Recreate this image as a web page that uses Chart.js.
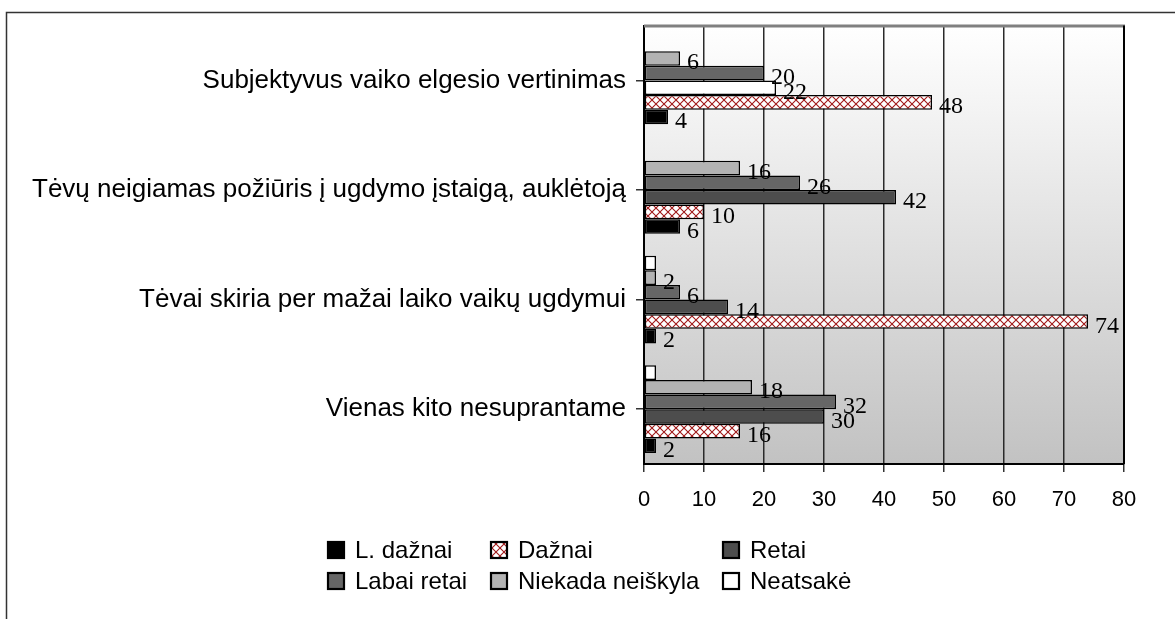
<!DOCTYPE html>
<html><head><meta charset="utf-8">
<script src="https://cdn.jsdelivr.net/npm/chart.js@4/dist/chart.umd.min.js"></script>
<style>html,body{margin:0;padding:0;background:#fff;}canvas{display:block;}</style>
</head><body>
<canvas id="c" width="1175" height="619"></canvas>
<script>
// ---- data (categories listed top to bottom) ----
const categories = [
  "Subjektyvus vaiko elgesio vertinimas",
  "Tėvų neigiamas požiūris į ugdymo įstaigą, auklėtoją",
  "Tėvai skiria per mažai laiko vaikų ugdymui",
  "Vienas kito nesuprantame"
];
const seriesNames = ["L. dažnai", "Dažnai", "Retai", "Labai retai", "Niekada neiškyla", "Neatsakė"];
const lDaznai    = [4, 6, 2, 2];
const daznai     = [48, 10, 74, 16];
const retai      = [22, 42, 14, 30];
const labaiRetai = [20, 26, 6, 32];
const niekada    = [6, 16, 2, 18];
const neatsake   = [null, null, 2, 2];
const xTicks = [0, 10, 20, 30, 40, 50, 60, 70, 80];

// ---- styles ----
function hatch() {
  const t = document.createElement('canvas');
  t.width = 8; t.height = 8;
  const g = t.getContext('2d');
  g.fillStyle = '#ffffff'; g.fillRect(0, 0, 8, 8);
  g.strokeStyle = '#a01818'; g.lineWidth = 1.1;
  g.beginPath();
  g.moveTo(0, 0); g.lineTo(8, 8);
  g.moveTo(8, 0); g.lineTo(0, 8);
  g.stroke();
  return g.createPattern(t, 'repeat');
}
const hatchPat = hatch();
const styleMap = {
  "L. dažnai": '#000000',
  "Dažnai": hatchPat,
  "Retai": '#4d4d4d',
  "Labai retai": '#666666',
  "Niekada neiškyla": '#b3b3b3',
  "Neatsakė": '#ffffff'
};
const valuesMap = {
  "L. dažnai": lDaznai, "Dažnai": daznai, "Retai": retai,
  "Labai retai": labaiRetai, "Niekada neiškyla": niekada, "Neatsakė": neatsake
};
// datasets drawn top to bottom within each group
const drawOrder = seriesNames.slice().reverse();
const datasets = drawOrder.map(name => {
  let bg = styleMap[name];
  if (name === "Retai") bg = categories.map((c, i) => i === 0 ? '#ffffff' : '#4d4d4d');
  return {
    label: name,
    data: valuesMap[name],
    backgroundColor: bg,
    borderColor: '#000000',
    borderWidth: 1.5,
    borderSkipped: false,
    categoryPercentage: 0.8,
    barPercentage: 1.0,
    showLabels: name !== "Neatsakė"
  };
});

const SANS = '"Liberation Sans", Arial, sans-serif';
const SERIF = '"Liberation Serif", "Times New Roman", serif';

const decor = {
  id: 'decor',
  beforeDraw(chart) {
    const {ctx, chartArea: a} = chart;
    const g = ctx.createLinearGradient(0, a.top, 0, a.bottom);
    g.addColorStop(0, '#ffffff');
    g.addColorStop(1, '#c2c2c2');
    ctx.save();
    ctx.fillStyle = g;
    ctx.fillRect(a.left, a.top, a.right - a.left, a.bottom - a.top);
    ctx.restore();
  },
  afterDatasetsDraw(chart) {
    const {ctx} = chart;
    ctx.save();
    ctx.font = '24px ' + SERIF;
    ctx.fillStyle = '#000';
    ctx.textAlign = 'left';
    ctx.textBaseline = 'alphabetic';
    chart.data.datasets.forEach((ds, di) => {
      if (!ds.showLabels) return;
      const meta = chart.getDatasetMeta(di);
      meta.data.forEach((el, i) => {
        const v = ds.data[i];
        if (v === null || v === undefined) return;
        ctx.fillText(String(v), el.x + 7, el.y + 11);
      });
    });
    ctx.restore();
  },
  afterDraw(chart) {
    const {ctx, chartArea: a} = chart;
    ctx.save();
    // plot frame
    ctx.strokeStyle = '#808080'; ctx.lineWidth = 3;
    ctx.beginPath(); ctx.moveTo(a.left, a.top + 0.5); ctx.lineTo(a.right + 1, a.top + 0.5); ctx.stroke();
    ctx.strokeStyle = '#000'; ctx.lineWidth = 2;
    ctx.beginPath(); ctx.moveTo(a.right, a.top); ctx.lineTo(a.right, a.bottom); ctx.stroke();
    // outer chart border
    ctx.strokeStyle = '#333'; ctx.lineWidth = 1.5;
    ctx.beginPath(); ctx.moveTo(6.5, 619); ctx.lineTo(6.5, 12.5); ctx.lineTo(1175, 12.5); ctx.stroke();
    // legend (grid of 3 columns x 2 rows)
    const colX = [327, 490, 722];
    const rowY = [550, 581];
    ctx.font = '24px ' + SANS;
    ctx.textBaseline = 'middle';
    ctx.textAlign = 'left';
    seriesNames.forEach((name, k) => {
      const x = colX[k % 3], y = rowY[Math.floor(k / 3)];
      ctx.fillStyle = styleMap[name];
      ctx.fillRect(x, y - 9, 18, 18);
      ctx.strokeStyle = '#000'; ctx.lineWidth = 2.2;
      ctx.strokeRect(x + 1, y - 8, 16, 16);
      ctx.fillStyle = '#000';
      ctx.fillText(name, x + 28, y + 1);
    });
    ctx.restore();
  }
};

new Chart(document.getElementById('c'), {
  type: 'bar',
  data: { labels: categories, datasets },
  plugins: [decor],
  options: {
    indexAxis: 'y',
    responsive: false,
    animation: false,
    devicePixelRatio: 1,
    layout: { padding: { top: 24, right: 51, bottom: 0, left: 0 } },
    plugins: { legend: { display: false }, tooltip: { enabled: false } },
    scales: {
      x: {
        min: xTicks[0], max: xTicks[xTicks.length - 1],
        afterBuildTicks: s => { s.ticks = xTicks.map(v => ({ value: v })); },
        afterFit: s => { s.height = 155; },
        grid: { color: '#2a2a2a', lineWidth: 1.5, tickLength: 8, tickColor: '#333', drawOnChartArea: true },
        border: { display: true, color: '#000', width: 2 },
        ticks: { color: '#000', font: { family: SANS, size: 22 }, padding: 15, maxRotation: 0 }
      },
      y: {
        afterFit: s => { s.width = 644; },
        grid: { offset: false, drawOnChartArea: false, tickLength: 8, tickColor: '#333', lineWidth: 1.5 },
        border: { display: true, color: '#000', width: 2 },
        ticks: { color: '#000', font: { family: SANS, size: 26 }, padding: 10 }
      }
    }
  }
});
</script>
</body></html>
